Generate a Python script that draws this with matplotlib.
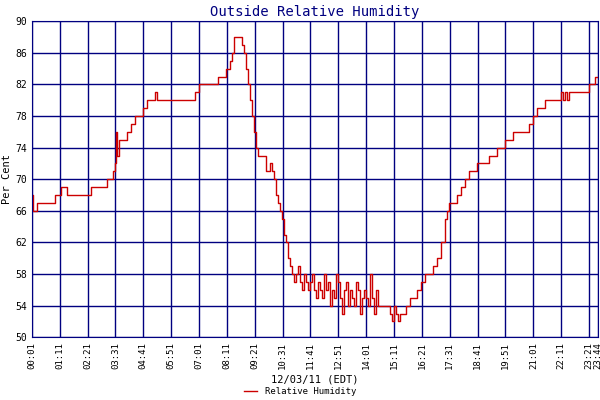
import matplotlib
matplotlib.use("Agg")
import matplotlib.pyplot as plt

minutes = [0,5,15,60,75,90,150,190,205,210,213,216,220,230,240,250,260,270,280,290,300,310,315,330,360,380,410,420,440,470,480,490,500,505,510,520,530,535,540,545,550,555,560,565,570,580,590,600,605,610,615,620,625,630,635,640,645,650,655,660,665,670,675,680,685,690,695,700,705,710,715,720,725,730,735,740,745,750,755,760,765,770,775,780,785,790,795,800,805,810,815,820,825,830,835,840,845,850,855,860,865,870,880,890,900,905,910,915,920,925,930,940,950,960,970,980,990,1000,1010,1020,1030,1040,1045,1050,1060,1070,1080,1090,1100,1110,1120,1130,1150,1170,1190,1210,1230,1250,1260,1270,1280,1290,1310,1330,1335,1340,1345,1350,1360,1380,1400,1410,1415,1423]
humidity = [68,66,67,68,69,68,69,70,71,72,76,73,75,75,76,77,78,78,79,80,80,81,80,80,80,80,81,82,82,83,83,84,85,86,88,88,87,86,84,82,80,78,76,74,73,73,71,72,71,70,68,67,66,65,63,62,60,59,58,57,58,59,57,56,58,57,56,57,58,56,55,57,56,55,58,56,57,54,56,55,58,57,55,53,56,57,54,56,55,54,57,56,53,55,56,55,54,58,55,53,56,54,54,54,53,52,54,53,52,53,53,54,55,55,56,57,58,58,59,60,62,65,66,67,67,68,69,70,71,71,72,72,73,74,75,76,76,77,78,79,79,80,80,81,80,81,80,81,81,81,82,82,83,83]
tick_minutes = [1,71,141,211,281,351,421,491,561,631,701,771,841,911,981,1051,1121,1191,1261,1331,1401,1424]
tick_labels = ["00:01","01:11","02:21","03:31","04:41","05:51","07:01","08:11","09:21","10:31","11:41","12:51","14:01","15:11","16:21","17:31","18:41","19:51","21:01","22:11","23:21","23:44"]

navy = "#000080"
plt.rcParams['font.family'] = ['DejaVu Sans Mono']
fig = plt.figure(figsize=(6, 4), dpi=100)
ax = fig.add_axes([0.053, 0.157, 0.944, 0.79])
ax.step(minutes, humidity, where='post', color="#cc0000", lw=1, label="Relative Humidity")
ax.set_xlim(1, 1424)
ax.set_ylim(50, 90)
ax.set_yticks(range(50, 91, 4))
ax.set_xticks(tick_minutes)
ax.set_xticklabels(tick_labels, rotation=90, fontsize=6.5, color="black")
ax.tick_params(axis='y', labelsize=7, length=0)
ax.tick_params(axis='x', length=0)
ax.grid(True, color=navy, lw=1)
for s in ax.spines.values():
    s.set_color(navy)
ax.set_title("Outside Relative Humidity", color=navy, fontsize=10, pad=4)
ax.set_ylabel("Per Cent", fontsize=7.5, labelpad=2)
ax.set_xlabel("12/03/11 (EDT)", fontsize=7.5, labelpad=4)
fig.legend(loc='lower center', bbox_to_anchor=(0.5, -0.01), frameon=False, fontsize=6.5, handlelength=1.5)
fig.savefig("out.png")
